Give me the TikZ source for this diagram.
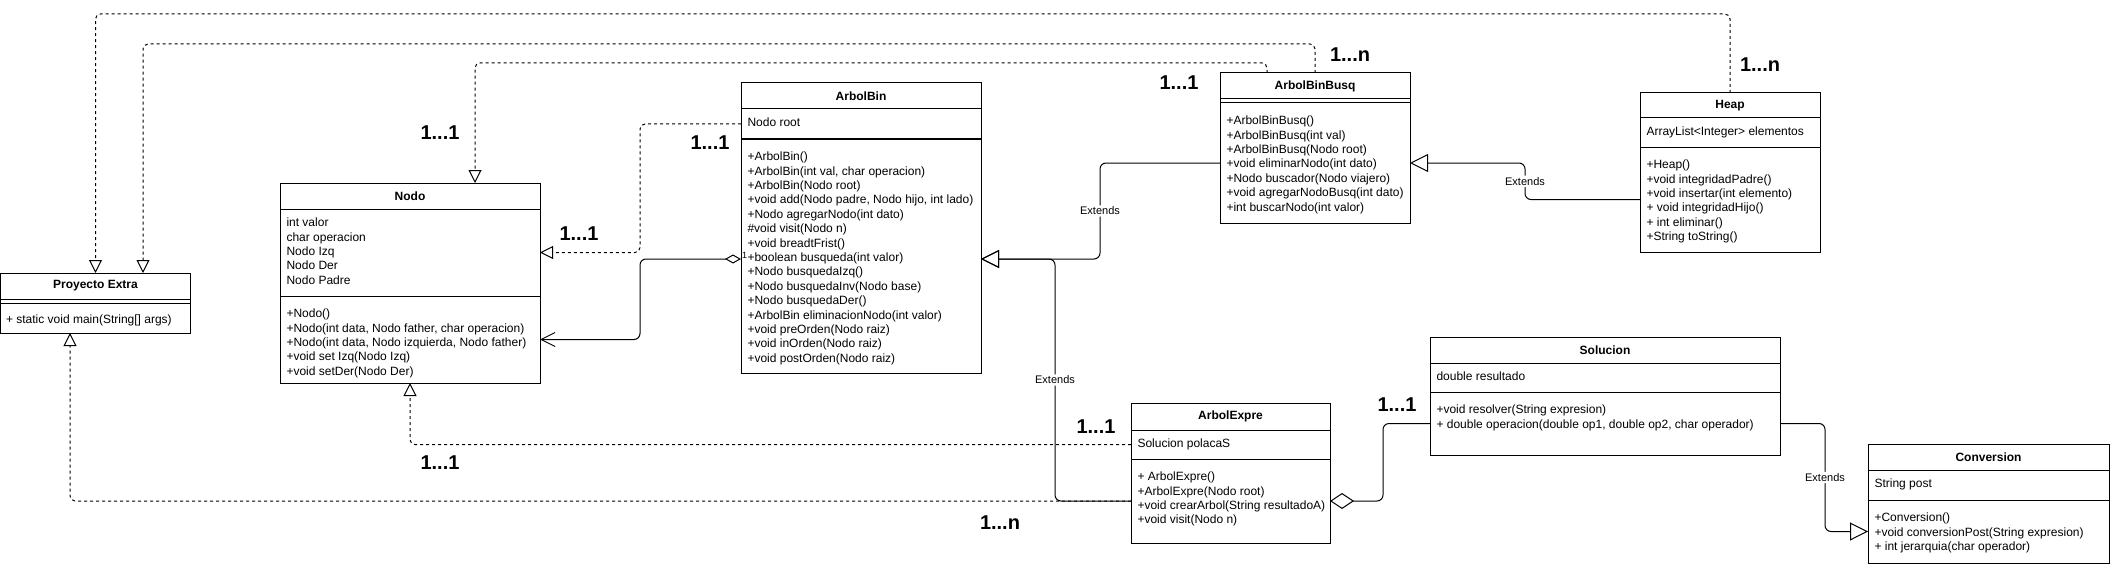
\documentclass[tikz,border=0pt]{standalone}
\usepackage{fontspec}
\setmainfont{Liberation Sans}
\usetikzlibrary{arrows.meta}

\begin{document}
\begin{tikzpicture}[
  x=1pt,
  y=-1pt,
  line width=1pt,
  font=\fontsize{12}{14.4}\selectfont,
  part/.style 2 args={draw, anchor=north west, inner sep=0pt, outer sep=0pt, minimum width=#1, minimum height=#2},
  ttl/.style={font=\fontsize{12}{14.4}\selectfont\bfseries},
  txt/.style={anchor=north west, align=left, inner sep=0pt},
  mult/.style={inner sep=0pt, font=\fontsize{20}{20}\selectfont\bfseries},
  ext/.style={fill=white, inner sep=1.5pt, font=\fontsize{11}{11}\selectfont},
  dep/.style={dash pattern=on 3pt off 3pt, rounded corners=5pt, -{Triangle[open, length=13pt, width=13pt]}},
  gen/.style={rounded corners=6pt, -{Triangle[open, length=18pt, width=18pt]}},
  agg/.style={rounded corners=6pt}
]
\useasboundingbox (0,0) rectangle (2111,567);

% Proyecto Extra
\node[part={190}{26}, ttl] (proyT) at (0.5,273) {Proyecto Extra};
\node[part={190}{4}] (proyA) at (proyT.south west) {};
\node[part={190}{30}] (proyM) at (proyA.south west) {};
\node[txt] (proyMt) at ([shift={(5,11)}]proyM.north west) {+ static void main(String[] args)};

% Nodo
\node[part={260}{26}, ttl] (nodoT) at (280,183) {Nodo};
\node[part={260}{87}] (nodoA) at (nodoT.south west) {};
\node[part={260}{87}] (nodoM) at (nodoA.south west) {};
\node[txt] (nodoAt) at ([shift={(6,8.5)}]nodoA.north west) {int valor\\char operacion\\Nodo Izq\\Nodo Der\\Nodo Padre};
\node[txt] (nodoMt) at ([shift={(6,12.5)}]nodoM.north west) {+Nodo()\\+Nodo(int data, Nodo father, char operacion)\\+Nodo(int data, Nodo izquierda, Nodo father)\\+void set Izq(Nodo Izq)\\+void setDer(Nodo Der)};

% ArbolBin
\node[part={240}{26}, ttl] (binT) at (741,83) {ArbolBin};
\node[part={240}{30}] (binA) at (binT.south west) {};
\node[part={240}{234}] (binM) at (binA.south west) {};
\node[txt] (binAt) at ([shift={(6,8.5)}]binA.north west) {Nodo root};
\node[txt] (binMt) at ([shift={(6,12.5)}]binM.north west) {+ArbolBin()\\+ArbolBin(int val, char operacion)\\+ArbolBin(Nodo root)\\+void add(Nodo padre, Nodo hijo, int lado)\\+Nodo agregarNodo(int dato)\\\#void visit(Nodo n)\\+void breadtFrist()\\+boolean busqueda(int valor)\\+Nodo busquedaIzq()\\+Nodo busquedaInv(Nodo base)\\+Nodo busquedaDer()\\+ArbolBin eliminacionNodo(int valor)\\+void preOrden(Nodo raiz)\\+void inOrden(Nodo raiz)\\+void postOrden(Nodo raiz)};

% ArbolBinBusq
\node[part={190}{26}, ttl] (busqT) at (1220,73) {ArbolBinBusq};
\node[part={190}{4}] (busqA) at (busqT.south west) {};
\node[part={190}{120}] (busqM) at (busqA.south west) {};
\node[txt] (busqMt) at ([shift={(6,12.5)}]busqM.north west) {+ArbolBinBusq()\\+ArbolBinBusq(int val)\\+ArbolBinBusq(Nodo root)\\+void eliminarNodo(int dato)\\+Nodo buscador(Nodo viajero)\\+void agregarNodoBusq(int dato)\\+int buscarNodo(int valor)};

% Heap
\node[part={180}{25}, ttl] (heapT) at (1640,93) {Heap};
\node[part={180}{29}] (heapA) at (heapT.south west) {};
\node[part={180}{105}] (heapM) at (heapA.south west) {};
\node[txt] (heapAt) at ([shift={(6,8.5)}]heapA.north west) {ArrayList<Integer> elementos};
\node[txt] (heapMt) at ([shift={(6,12.5)}]heapM.north west) {+Heap()\\+void integridadPadre()\\+void insertar(int elemento)\\+ void integridadHijo()\\+ int eliminar()\\+String toString()};

% Solucion
\node[part={350}{26}, ttl] (solT) at (1430,337) {Solucion};
\node[part={350}{29}] (solA) at (solT.south west) {};
\node[part={350}{63}] (solM) at (solA.south west) {};
\node[txt] (solAt) at ([shift={(6,8.5)}]solA.north west) {double resultado};
\node[txt] (solMt) at ([shift={(6,12.5)}]solM.north west) {+void resolver(String expresion)\\+ double operacion(double op1, double op2, char operador)};

% ArbolExpre
\node[part={199}{27}, ttl] (expT) at (1131,403) {ArbolExpre};
\node[part={199}{29}] (expA) at (expT.south west) {};
\node[part={199}{84}] (expM) at (expA.south west) {};
\node[txt] (expAt) at ([shift={(6,8.5)}]expA.north west) {Solucion polacaS};
\node[txt] (expMt) at ([shift={(6,12.5)}]expM.north west) {+ ArbolExpre()\\+ArbolExpre(Nodo root)\\+void crearArbol(String resultadoA)\\+void visit(Nodo n)};

% Conversion
\node[part={241}{26}, ttl] (convT) at (1868,444) {Conversion};
\node[part={241}{30}] (convA) at (convT.south west) {};
\node[part={241}{63}] (convM) at (convA.south west) {};
\node[txt] (convAt) at ([shift={(6,8.5)}]convA.north west) {String post};
\node[txt] (convMt) at ([shift={(6,12.5)}]convM.north west) {+Conversion()\\+void conversionPost(String expresion)\\+ int jerarquia(char operador)};

% dependencias
\draw[dep] (heapT.north) -- ++(0,-79) -| (proyT.north);
\draw[dep] (busqT.north) -- ++(0,-29) -| ([xshift=47.5]proyT.north);
\draw[dep] ([xshift=-48]busqT.north) -- ++(0,-10) -| ([xshift=65]nodoT.north);
\draw[dep] (binA.west) -- ++(-101,0) |- (nodoA.east);
\draw[dep] (expA.west) -| (nodoM.south);
\draw[dep] (expM.west) -| ([xshift=-25.5]proyM.south);

% agregaciones
\draw[agg, {Diamond[open, length=16pt, width=9pt]}-{Straight Barb[length=14pt, width=14pt]}] ([yshift=-3pt]binM.west) -- ++(-101,0) |- (nodoM.east);
\node[anchor=south west, inner sep=0.5pt, font=\fontsize{9}{9}\selectfont] (uno) at ([yshift=-3pt]binM.west) {1};
\draw[agg, {Diamond[open, length=24pt, width=16pt]}-] (expM.east) -- ++(53,0) |- (solM.west);

% herencias
\draw[gen] (busqM.west) -- ++(-120,0) |- node[ext, pos=0.25] (ext1) {Extends} ([yshift=-3pt]binM.east);
\draw[gen] (expM.west) -- ++(-76,0) |- node[ext, pos=0.25] (ext2) {Extends} ([yshift=-3pt]binM.east);
\draw[gen] (heapM.west) -- ++(-115,0) |- node[ext, pos=0.25] (ext3) {Extends} (busqM.east);
\draw[gen] (solM.east) -- ++(45,0) |- node[ext, pos=0.25] (ext4) {Extends} (convM.west);

% multiplicidades
\node[mult] (m1) at (440,133) {1...1};
\node[mult] (m2) at (579,234) {1...1};
\node[mult] (m3) at (710,143) {1...1};
\node[mult] (m4) at (1179,83) {1...1};
\node[mult] (m5) at (1350,55) {1...n};
\node[mult] (m6) at (1760,65) {1...n};
\node[mult] (m7) at (1096,427) {1...1};
\node[mult] (m8) at (440,463) {1...1};
\node[mult] (m9) at (1000,523) {1...n};
\node[mult] (m10) at (1397,405) {1...1};

\end{tikzpicture}
\end{document}
